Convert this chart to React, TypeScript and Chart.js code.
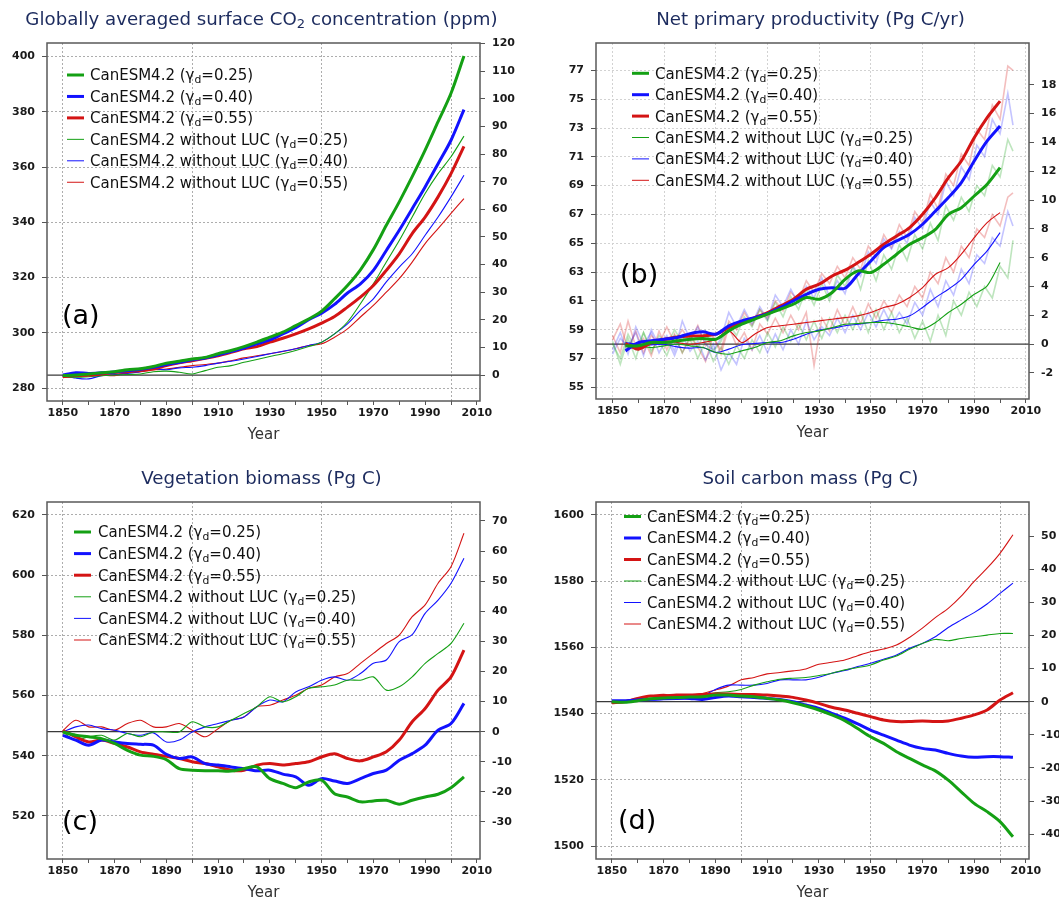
import React, { useEffect, useRef } from 'react';
import { Chart, registerables } from 'chart.js';
Chart.register(...registerables);

const FONT = '"DejaVu Sans", Verdana, sans-serif';
Chart.defaults.font.family = FONT;

// ---------- shared axes ----------
const X_TICKS = [1850, 1860, 1870, 1880, 1890, 1900, 1910, 1920, 1930, 1940, 1950, 1960, 1970, 1980, 1990, 2000, 2010];
const X_LABELS = [1850, 1870, 1890, 1910, 1930, 1950, 1970, 1990, 2010];
const X_GRID_50 = [1850, 1900, 1950, 2000];
const X_GRID_20 = [1850, 1870, 1890, 1910, 1930, 1950, 1970, 1990, 2010];

const YEARS = [1850, 1855, 1860, 1865, 1870, 1875, 1880, 1885, 1890, 1895, 1900, 1905, 1910, 1915, 1920, 1925,
  1930, 1935, 1940, 1945, 1950, 1955, 1960, 1965, 1970, 1975, 1980, 1985, 1990, 1995, 2000, 2005];
const YEARS_MEAN_B = [1855, 1860, 1865, 1870, 1875, 1880, 1885, 1890, 1895, 1900, 1905, 1910, 1915, 1920, 1925,
  1930, 1935, 1940, 1945, 1950, 1955, 1960, 1965, 1970, 1975, 1980, 1985, 1990, 1995, 2000];
const YEARS_ANNUAL_B = [1850, 1853, 1856, 1859, 1862, 1865, 1868, 1871, 1874, 1877, 1880, 1883, 1886, 1889, 1892, 1895,
  1898, 1901, 1904, 1907, 1910, 1913, 1916, 1919, 1922, 1925, 1928, 1931, 1934, 1937, 1940, 1943, 1946, 1949, 1952,
  1955, 1958, 1961, 1964, 1967, 1970, 1973, 1976, 1979, 1982, 1985, 1988, 1991, 1994, 1997, 2000, 2003, 2005];

// ---------- (a) CO2 (ppm) ----------
const CO2_LUC_25 = [284.5, 284.7, 285.1, 285.5, 285.9, 286.6, 287.0, 287.8, 289.0, 289.7, 290.5, 291.1, 292.4, 293.6, 295.0, 296.6, 298.4, 300.2, 302.6, 305.0, 307.8, 312.3, 317.1, 322.8, 330.1, 338.9, 347.4, 356.5, 366.1, 376.4, 386.7, 400.2];
const CO2_LUC_40 = [284.7, 285.5, 285.3, 285.5, 285.8, 286.3, 286.8, 287.5, 288.5, 289.3, 290.2, 290.9, 292.0, 293.2, 294.5, 296.0, 297.4, 299.6, 301.8, 304.7, 307.1, 310.3, 314.4, 317.7, 322.6, 329.8, 337.1, 344.9, 352.8, 361.2, 369.7, 380.8];
const CO2_LUC_55 = [284.1, 284.5, 284.7, 285.1, 285.6, 285.9, 286.3, 286.9, 288.1, 289.1, 289.9, 290.8, 291.7, 292.9, 294.2, 295.0, 296.6, 298.0, 299.6, 301.4, 303.5, 305.9, 309.3, 312.9, 317.1, 322.6, 328.6, 335.9, 341.9, 349.2, 357.6, 367.5];
const CO2_NOLUC_25 = [284.1, 283.9, 284.1, 284.5, 284.7, 284.9, 285.1, 285.9, 286.1, 285.7, 285.1, 286.3, 287.5, 288.1, 289.3, 290.3, 291.4, 292.4, 293.6, 295.0, 296.6, 299.6, 303.9, 310.5, 317.7, 325.6, 333.4, 341.9, 350.4, 357.6, 363.7, 371.2];
const CO2_NOLUC_40 = [284.5, 283.6, 283.3, 284.5, 284.9, 285.3, 285.9, 286.9, 286.6, 287.3, 287.5, 288.1, 289.0, 289.7, 290.5, 291.4, 292.4, 293.3, 294.2, 295.4, 296.6, 299.6, 303.2, 308.1, 312.3, 318.4, 323.8, 328.6, 335.3, 341.9, 349.2, 357.0];
const CO2_NOLUC_55 = [283.9, 284.1, 284.5, 284.7, 284.5, 285.7, 285.9, 286.6, 286.9, 287.5, 288.1, 288.5, 289.0, 289.9, 290.9, 291.7, 292.4, 293.2, 294.2, 295.4, 296.0, 298.4, 301.4, 305.7, 309.9, 314.7, 319.6, 325.6, 332.3, 337.7, 343.2, 348.6];
const A_LEFT_TICKS = [280, 300, 320, 340, 360, 380, 400];
const A_RIGHT_TICKS = [0, 10, 20, 30, 40, 50, 60, 70, 80, 90, 100, 110, 120];

// ---------- (b) NPP (Pg C/yr) ----------
const NPP_LUC_25 = [57.88, 57.88, 58.11, 58.11, 58.23, 58.34, 58.39, 58.34, 58.92, 59.38, 59.73, 60.08, 60.42, 60.77, 61.23, 61.12, 61.58, 62.50, 63.08, 62.97, 63.54, 64.24, 64.93, 65.39, 65.97, 67.01, 67.47, 68.28, 69.09, 70.25];
const NPP_LUC_40 = [57.53, 58.11, 58.23, 58.34, 58.46, 58.73, 58.85, 58.69, 59.27, 59.61, 59.84, 60.12, 60.54, 61.00, 61.46, 61.81, 61.92, 61.88, 62.85, 63.77, 64.70, 65.16, 65.62, 66.32, 67.24, 68.17, 69.21, 70.71, 72.10, 73.14];
const NPP_LUC_55 = [58.04, 57.65, 58.11, 58.34, 58.50, 58.57, 58.57, 58.69, 59.15, 59.50, 59.84, 60.19, 60.65, 61.12, 61.81, 62.16, 62.73, 63.13, 63.66, 64.24, 64.93, 65.51, 66.09, 67.01, 68.17, 69.55, 70.71, 72.33, 73.72, 74.87];
const NPP_NOLUC_25 = [57.99, 57.88, 57.76, 57.88, 57.99, 57.88, 57.76, 57.42, 57.30, 57.53, 57.76, 58.11, 58.23, 58.57, 58.80, 58.92, 59.15, 59.38, 59.43, 59.50, 59.50, 59.38, 59.20, 59.03, 59.50, 60.19, 60.77, 61.46, 62.04, 63.66];
const NPP_NOLUC_40 = [58.11, 57.99, 57.95, 57.99, 57.81, 57.72, 57.76, 57.42, 57.65, 57.95, 58.04, 58.11, 58.11, 58.34, 58.69, 58.97, 59.10, 59.27, 59.38, 59.50, 59.66, 59.73, 59.96, 60.54, 61.23, 61.81, 62.50, 63.54, 64.47, 65.74];
const NPP_NOLUC_55 = [57.88, 57.76, 57.99, 58.23, 58.11, 57.99, 58.11, 58.34, 58.92, 58.11, 58.69, 59.15, 59.27, 59.38, 59.50, 59.61, 59.73, 59.84, 59.96, 60.19, 60.54, 60.77, 61.23, 61.92, 62.85, 63.31, 64.24, 65.39, 66.43, 67.13];
const NPP_LUC_25_ANNUAL = [58.0, 57.0, 58.7, 57.6, 58.8, 57.4, 58.6, 57.9, 59.0, 58.1, 58.7, 57.8, 58.9, 57.5, 58.2, 59.4, 58.6, 59.9, 59.2, 60.4, 59.6, 60.9, 59.9, 61.3, 60.4, 61.8, 60.7, 62.2, 61.0, 62.8, 62.0, 63.4, 61.8, 63.8, 62.4, 64.2, 63.2, 64.9, 63.8, 65.6, 64.6, 66.4, 65.2, 67.6, 66.6, 68.2, 67.2, 69.0, 68.3, 70.4, 69.6, 72.2, 71.4];
const NPP_LUC_40_ANNUAL = [57.3, 58.4, 57.8, 58.8, 57.2, 59.0, 57.9, 58.6, 57.5, 59.6, 58.3, 59.2, 58.0, 57.6, 58.4, 60.2, 59.2, 60.4, 59.4, 60.6, 59.7, 61.4, 60.6, 61.8, 60.8, 62.0, 61.2, 62.6, 61.3, 62.4, 61.5, 63.4, 62.7, 64.4, 63.6, 65.3, 64.6, 65.8, 65.0, 66.8, 66.0, 67.9, 67.0, 69.3, 68.3, 70.3, 69.4, 71.8, 71.0, 73.6, 72.6, 75.4, 73.2];
const NPP_LUC_55_ANNUAL = [58.3, 59.4, 57.6, 58.9, 57.4, 58.6, 58.0, 59.2, 58.1, 59.0, 58.2, 59.3, 57.9, 58.4, 57.6, 59.6, 59.0, 60.2, 59.3, 60.4, 59.8, 61.0, 60.3, 61.6, 61.0, 62.4, 61.6, 62.9, 62.2, 63.4, 62.6, 64.0, 63.2, 64.8, 64.0, 65.6, 64.7, 66.3, 65.4, 67.2, 66.4, 68.4, 67.4, 69.8, 69.0, 71.2, 70.4, 72.9, 72.2, 74.6, 73.6, 77.3, 77.0];
const NPP_NOLUC_25_ANNUAL = [58.2, 56.6, 58.4, 57.0, 58.8, 57.6, 58.2, 57.2, 58.6, 57.4, 58.4, 57.0, 58.2, 56.8, 57.8, 56.6, 57.9, 57.0, 58.3, 57.4, 58.8, 57.8, 59.2, 58.2, 59.4, 58.3, 59.6, 58.4, 59.8, 58.8, 60.0, 59.0, 60.2, 58.8, 60.4, 59.0, 60.2, 58.8, 59.8, 58.4, 59.6, 58.2, 60.0, 58.6, 61.0, 60.0, 61.6, 60.6, 62.0, 61.2, 63.4, 62.6, 65.2];
const NPP_NOLUC_40_ANNUAL = [57.6, 58.8, 57.3, 59.2, 58.0, 58.8, 57.4, 58.4, 57.2, 58.6, 57.5, 58.2, 56.9, 58.0, 56.2, 57.4, 56.6, 58.4, 57.6, 58.6, 57.4, 58.7, 57.6, 59.0, 58.0, 59.6, 58.3, 59.2, 58.6, 59.8, 58.8, 60.0, 59.0, 60.2, 59.2, 60.4, 59.3, 60.2, 59.4, 60.9, 60.0, 61.8, 60.6, 62.4, 61.4, 63.2, 62.2, 64.2, 63.6, 65.4, 64.8, 67.2, 66.2];
const NPP_NOLUC_55_ANNUAL = [58.6, 57.4, 59.6, 57.8, 58.4, 57.2, 58.9, 57.6, 58.7, 57.4, 58.5, 57.8, 56.8, 58.6, 57.3, 59.2, 57.9, 58.8, 57.6, 59.4, 58.7, 59.8, 58.8, 60.0, 59.0, 60.2, 56.5, 59.8, 58.9, 60.4, 59.3, 60.6, 59.4, 60.8, 59.8, 61.0, 60.2, 61.4, 60.6, 62.0, 61.2, 63.0, 62.2, 64.0, 63.0, 64.8, 64.0, 66.0, 65.4, 67.0, 66.2, 68.2, 68.5];
const B_LEFT_TICKS = [55, 57, 59, 61, 63, 65, 67, 69, 71, 73, 75, 77];
const B_RIGHT_TICKS = [-2, 0, 2, 4, 6, 8, 10, 12, 14, 16, 18];

// ---------- (c) Vegetation biomass (Pg C) ----------
const VEG_LUC_25 = [547.9, 546.8, 546.3, 545.7, 544.1, 541.8, 540.2, 539.8, 538.7, 535.7, 535.2, 535.0, 535.0, 534.9, 535.7, 536.3, 532.4, 530.8, 529.4, 531.3, 531.9, 527.4, 526.3, 524.7, 525.0, 525.2, 523.9, 525.2, 526.3, 527.2, 529.4, 533.0];
const VEG_LUC_40 = [546.8, 545.2, 543.5, 545.2, 544.6, 544.1, 543.8, 543.5, 540.5, 539.1, 539.6, 537.4, 536.9, 536.3, 535.7, 535.0, 535.2, 533.9, 533.0, 530.2, 532.4, 531.6, 530.8, 532.4, 534.1, 535.2, 538.5, 540.7, 543.5, 548.5, 550.7, 557.4];
const VEG_LUC_55 = [548.3, 546.3, 544.6, 545.2, 544.1, 542.9, 541.3, 540.5, 539.8, 539.1, 538.0, 537.4, 536.3, 535.2, 535.2, 536.9, 537.4, 536.9, 537.4, 538.0, 539.6, 540.7, 539.1, 538.3, 539.6, 541.3, 545.2, 551.3, 555.7, 561.8, 566.2, 575.1];
const VEG_NOLUC_25 = [547.9, 545.2, 546.3, 546.8, 545.2, 547.4, 546.3, 547.9, 547.9, 547.9, 551.3, 549.6, 549.6, 551.8, 554.0, 556.3, 559.6, 557.9, 559.6, 562.4, 562.9, 563.5, 565.1, 565.1, 566.2, 561.8, 562.9, 566.2, 570.7, 574.0, 577.3, 584.0];
const VEG_NOLUC_40 = [547.9, 549.6, 550.2, 549.0, 548.5, 547.4, 546.8, 547.6, 544.6, 545.2, 547.9, 549.6, 550.7, 551.8, 552.9, 556.3, 558.5, 557.9, 561.2, 562.9, 565.1, 566.2, 565.1, 567.3, 570.7, 571.8, 577.9, 580.2, 587.3, 591.7, 597.3, 605.6];
const VEG_NOLUC_55 = [548.3, 551.8, 549.6, 549.6, 548.5, 550.7, 551.8, 549.6, 549.6, 550.7, 548.5, 546.3, 549.0, 551.8, 552.9, 556.3, 556.8, 558.5, 560.1, 562.4, 563.5, 566.2, 567.3, 570.7, 574.0, 577.3, 580.1, 586.2, 590.1, 597.3, 602.8, 613.9];
const C_LEFT_TICKS = [520, 540, 560, 580, 600, 620];
const C_RIGHT_TICKS = [-30, -20, -10, 0, 10, 20, 30, 40, 50, 60, 70];

// ---------- (d) Soil carbon mass (Pg C) ----------
const SOIL_LUC_25 = [1543.6, 1543.4, 1543.9, 1544.5, 1544.7, 1544.9, 1545.0, 1545.1, 1545.6, 1545.6, 1545.3, 1545.1, 1544.6, 1544.1, 1543.3, 1542.3, 1541.1, 1539.6, 1537.9, 1535.5, 1533.0, 1531.0, 1528.5, 1526.5, 1524.5, 1522.7, 1519.9, 1516.4, 1512.9, 1510.4, 1507.4, 1502.8];
const SOIL_LUC_40 = [1543.9, 1543.9, 1544.1, 1544.3, 1544.5, 1544.6, 1544.6, 1544.3, 1544.9, 1545.3, 1545.1, 1544.9, 1544.6, 1544.3, 1543.6, 1542.6, 1541.6, 1540.1, 1538.6, 1536.9, 1535.0, 1533.5, 1532.0, 1530.5, 1529.5, 1529.0, 1528.0, 1527.2, 1526.8, 1527.0, 1527.0, 1526.8];
const SOIL_LUC_55 = [1543.3, 1543.6, 1544.6, 1545.3, 1545.3, 1545.6, 1545.6, 1545.8, 1545.9, 1545.9, 1545.8, 1545.8, 1545.6, 1545.3, 1544.9, 1544.1, 1543.1, 1541.9, 1541.1, 1540.1, 1539.1, 1538.1, 1537.6, 1537.6, 1537.8, 1537.6, 1537.8, 1538.6, 1539.6, 1541.1, 1544.1, 1546.3];
const SOIL_NOLUC_25 = [1543.6, 1543.4, 1543.9, 1544.3, 1544.9, 1545.3, 1545.6, 1545.6, 1546.3, 1546.6, 1547.3, 1548.6, 1549.6, 1550.4, 1550.7, 1550.9, 1551.5, 1552.2, 1553.2, 1553.9, 1554.7, 1556.2, 1557.4, 1559.4, 1561.2, 1562.4, 1562.0, 1562.7, 1563.2, 1563.7, 1564.2, 1564.2];
const SOIL_NOLUC_40 = [1543.9, 1543.9, 1544.3, 1544.1, 1544.3, 1544.3, 1544.6, 1545.3, 1547.3, 1548.6, 1548.6, 1548.6, 1549.1, 1550.2, 1550.2, 1550.2, 1551.0, 1552.2, 1553.0, 1554.2, 1555.2, 1556.4, 1557.7, 1559.7, 1561.2, 1563.2, 1566.0, 1568.3, 1570.5, 1573.1, 1576.3, 1579.4];
const SOIL_NOLUC_55 = [1543.3, 1543.9, 1544.6, 1545.3, 1545.8, 1545.3, 1545.6, 1546.1, 1547.1, 1548.3, 1550.2, 1550.9, 1552.0, 1552.4, 1552.9, 1553.5, 1554.9, 1555.5, 1556.2, 1557.5, 1558.7, 1559.5, 1560.7, 1563.0, 1565.8, 1569.0, 1571.8, 1575.5, 1579.9, 1583.9, 1588.4, 1594.0];
const D_LEFT_TICKS = [1500, 1520, 1540, 1560, 1580, 1600];
const D_RIGHT_TICKS = [-40, -30, -20, -10, 0, 10, 20, 30, 40, 50];

// ---------- styling ----------
const GREEN = '#14a014';
const BLUE = '#1212ff';
const RED = '#d41414';
const GREEN_FADE = 'rgba(20,160,20,0.28)';
const BLUE_FADE = 'rgba(18,18,255,0.25)';
const RED_FADE = 'rgba(212,20,20,0.28)';
const TITLE_COLOR = '#1c2b5e';

type Part = { t: string; sub?: boolean };
type Series = { years: number[]; values: number[]; color: string; width: number; tension?: number };

const GAMMAS = ['0.25', '0.40', '0.55'];
const LEGEND_ITEMS = [
  ...GAMMAS.map((g, i) => ({ parts: [{ t: 'CanESM4.2 (γ' }, { t: 'd', sub: true }, { t: '=' + g + ')' }], color: [GREEN, BLUE, RED][i], width: 3 })),
  ...GAMMAS.map((g, i) => ({ parts: [{ t: 'CanESM4.2 without LUC (γ' }, { t: 'd', sub: true }, { t: '=' + g + ')' }], color: [GREEN, BLUE, RED][i], width: 1 })),
];

type PanelCfg = {
  left: number; top: number; w: number; h: number;
  area: { left: number; right: number; top: number; bottom: number };
  xMin: number; xMax: number; yMin: number; yMax: number; zeroAt: number;
  leftTicks: number[]; rightTicks: number[]; xGrid: number[]; gridColor: string;
  title: Part[]; titleY: number; letter: string; letterX: number; letterY: number;
  legend: { lineX1: number; lineX2: number; textX: number; y0: number; dy: number };
  series: Series[];
};

const sixSeries = (years: number[], a: number[][]): Series[] => [
  { years, values: a[0], color: GREEN, width: 3 },
  { years, values: a[1], color: BLUE, width: 3 },
  { years, values: a[2], color: RED, width: 3 },
  { years, values: a[3], color: GREEN, width: 1.1 },
  { years, values: a[4], color: BLUE, width: 1.1 },
  { years, values: a[5], color: RED, width: 1.1 },
];

const PANELS: PanelCfg[] = [
  {
    left: 0, top: 0, w: 530, h: 450,
    area: { left: 47, right: 480, top: 43, bottom: 401 },
    xMin: 1843.9, xMax: 2011.2, yMin: 275.3, yMax: 404.9, zeroAt: 284.7,
    leftTicks: A_LEFT_TICKS, rightTicks: A_RIGHT_TICKS, xGrid: X_GRID_50, gridColor: '#adadad',
    title: [{ t: 'Globally averaged surface CO' }, { t: '2', sub: true }, { t: ' concentration (ppm)' }], titleY: 18,
    letter: '(a)', letterX: 62, letterY: 314,
    legend: { lineX1: 67, lineX2: 84, textX: 90, y0: 75, dy: 21.45 },
    series: sixSeries(YEARS, [CO2_LUC_25, CO2_LUC_40, CO2_LUC_55, CO2_NOLUC_25, CO2_NOLUC_40, CO2_NOLUC_55]),
  },
  {
    left: 530, top: 0, w: 529, h: 450,
    area: { left: 66, right: 499, top: 43, bottom: 399 },
    xMin: 1843.6, xMax: 2011.2, yMin: 54.19, yMax: 78.9, zeroAt: 58.0,
    leftTicks: B_LEFT_TICKS, rightTicks: B_RIGHT_TICKS, xGrid: X_GRID_20, gridColor: '#d2d2d2',
    title: [{ t: 'Net primary productivity (Pg C/yr)' }], titleY: 18,
    letter: '(b)', letterX: 90, letterY: 273,
    legend: { lineX1: 102, lineX2: 119, textX: 125, y0: 73.3, dy: 21.4 },
    series: [
      ...sixSeries(YEARS_MEAN_B, [NPP_LUC_25, NPP_LUC_40, NPP_LUC_55, NPP_NOLUC_25, NPP_NOLUC_40, NPP_NOLUC_55]),
      { years: YEARS_ANNUAL_B, values: NPP_LUC_25_ANNUAL, color: GREEN_FADE, width: 1.6, tension: 0 },
      { years: YEARS_ANNUAL_B, values: NPP_LUC_40_ANNUAL, color: BLUE_FADE, width: 1.6, tension: 0 },
      { years: YEARS_ANNUAL_B, values: NPP_LUC_55_ANNUAL, color: RED_FADE, width: 1.6, tension: 0 },
      { years: YEARS_ANNUAL_B, values: NPP_NOLUC_25_ANNUAL, color: GREEN_FADE, width: 1.6, tension: 0 },
      { years: YEARS_ANNUAL_B, values: NPP_NOLUC_40_ANNUAL, color: BLUE_FADE, width: 1.6, tension: 0 },
      { years: YEARS_ANNUAL_B, values: NPP_NOLUC_55_ANNUAL, color: RED_FADE, width: 1.6, tension: 0 },
    ],
  },
  {
    left: 0, top: 450, w: 530, h: 449,
    area: { left: 47, right: 480, top: 52, bottom: 409 },
    xMin: 1843.9, xMax: 2011.2, yMin: 505.7, yMax: 624.3, zeroAt: 548.0,
    leftTicks: C_LEFT_TICKS, rightTicks: C_RIGHT_TICKS, xGrid: X_GRID_50, gridColor: '#adadad',
    title: [{ t: 'Vegetation biomass (Pg C)' }], titleY: 27,
    letter: '(c)', letterX: 62, letterY: 370,
    legend: { lineX1: 74, lineX2: 91, textX: 98, y0: 82, dy: 21.6 },
    series: sixSeries(YEARS, [VEG_LUC_25, VEG_LUC_40, VEG_LUC_55, VEG_NOLUC_25, VEG_NOLUC_40, VEG_NOLUC_55]),
  },
  {
    left: 530, top: 450, w: 529, h: 449,
    area: { left: 66, right: 499, top: 52, bottom: 409 },
    xMin: 1843.9, xMax: 2011.2, yMin: 1496.1, yMax: 1603.9, zeroAt: 1543.6,
    leftTicks: D_LEFT_TICKS, rightTicks: D_RIGHT_TICKS, xGrid: X_GRID_50, gridColor: '#adadad',
    title: [{ t: 'Soil carbon mass (Pg C)' }], titleY: 27,
    letter: '(d)', letterX: 88, letterY: 369,
    legend: { lineX1: 94, lineX2: 111, textX: 117, y0: 66.5, dy: 21.5 },
    series: sixSeries(YEARS, [SOIL_LUC_25, SOIL_LUC_40, SOIL_LUC_55, SOIL_NOLUC_25, SOIL_NOLUC_40, SOIL_NOLUC_55]),
  },
];

function drawRich(ctx: CanvasRenderingContext2D, parts: Part[], x: number, y: number, size: number, color: string, align: 'left' | 'center') {
  const main = `${size}px ${FONT}`;
  const sub = `${(size * 0.72).toFixed(1)}px ${FONT}`;
  let total = 0;
  for (const p of parts) { ctx.font = p.sub ? sub : main; total += ctx.measureText(p.t).width; }
  let cx = align === 'center' ? x - total / 2 : x;
  const base = y + size * 0.36;
  ctx.fillStyle = color;
  ctx.textAlign = 'left';
  ctx.textBaseline = 'alphabetic';
  for (const p of parts) {
    ctx.font = p.sub ? sub : main;
    ctx.fillText(p.t, cx, p.sub ? base + size * 0.2 : base);
    cx += ctx.measureText(p.t).width;
  }
}

function Panel({ cfg }: { cfg: PanelCfg }) {
  const ref = useRef<HTMLCanvasElement>(null);
  useEffect(() => {
    const c = cfg;
    const tickFont = { family: FONT, size: 11, weight: 'bold' as const };
    const datasets = c.series.map((s) => ({
      data: s.years.map((x, i) => ({ x, y: s.values[i] })),
      borderColor: s.color,
      borderWidth: s.width,
      pointRadius: 0,
      tension: s.tension ?? 0.3,
      fill: false,
      yAxisID: 'y',
    }));
    const decor = {
      id: 'decor',
      beforeDatasetsDraw(chart: any) {
        const ctx = chart.ctx as CanvasRenderingContext2D;
        const a = chart.chartArea;
        const y0 = chart.scales.y2.getPixelForValue(0);
        ctx.save();
        ctx.strokeStyle = '#3a3a3a';
        ctx.lineWidth = 1.2;
        ctx.beginPath();
        ctx.moveTo(a.left, y0);
        ctx.lineTo(a.right, y0);
        ctx.stroke();
        ctx.restore();
      },
      afterDraw(chart: any) {
        const ctx = chart.ctx as CanvasRenderingContext2D;
        const a = chart.chartArea;
        ctx.save();
        ctx.strokeStyle = '#5a5a5a';
        ctx.lineWidth = 1.5;
        ctx.strokeRect(a.left, a.top, a.right - a.left, a.bottom - a.top);
        drawRich(ctx, c.title, (a.left + a.right) / 2 - 2, c.titleY, 18.2, TITLE_COLOR, 'center');
        drawRich(ctx, [{ t: 'Year' }], (a.left + a.right) / 2, a.bottom + 33, 15, '#333333', 'center');
        drawRich(ctx, [{ t: c.letter }], c.letterX, c.letterY, 27, '#000000', 'left');
        const L = c.legend;
        LEGEND_ITEMS.forEach((it, i) => {
          const yy = L.y0 + i * L.dy;
          ctx.strokeStyle = it.color;
          ctx.lineWidth = it.width;
          ctx.beginPath();
          ctx.moveTo(L.lineX1, yy);
          ctx.lineTo(L.lineX2, yy);
          ctx.stroke();
          drawRich(ctx, it.parts, L.textX, yy, 15, '#111111', 'left');
        });
        ctx.restore();
      },
    };
    const chart = new Chart(ref.current as HTMLCanvasElement, {
      type: 'line',
      data: { datasets } as any,
      options: {
        animation: false,
        responsive: false,
        devicePixelRatio: 1,
        layout: { padding: { top: c.area.top, left: 0, right: 0, bottom: 0 } },
        plugins: { legend: { display: false }, title: { display: false }, tooltip: { enabled: false } },
        scales: {
          x: {
            type: 'linear', min: c.xMin, max: c.xMax,
            afterBuildTicks: (s: any) => { s.ticks = X_TICKS.map((v) => ({ value: v })); },
            afterFit: (s: any) => { s.height = c.h - c.area.bottom; },
            ticks: {
              autoSkip: false, maxRotation: 0, padding: 2, font: tickFont, color: '#1a1a1a',
              callback: (v: any) => (X_LABELS.includes(Number(v)) ? String(v) : ''),
            },
            grid: {
              color: (ctx: any) => (ctx.tick && c.xGrid.includes(ctx.tick.value) ? c.gridColor : 'rgba(0,0,0,0)'),
              lineWidth: 1, tickColor: '#555555', tickLength: 4, tickBorderDash: [], tickWidth: 1,
            },
            border: { display: false, dash: [2, 2] },
          },
          y: {
            type: 'linear', position: 'left', min: c.yMin, max: c.yMax,
            afterBuildTicks: (s: any) => { s.ticks = c.leftTicks.map((v) => ({ value: v })); },
            afterFit: (s: any) => { s.width = c.area.left; },
            ticks: { padding: 7, font: tickFont, color: '#1a1a1a', callback: (v: any) => String(v) },
            grid: { color: c.gridColor, lineWidth: 1, tickColor: '#555555', tickLength: 5, tickBorderDash: [], tickWidth: 1 },
            border: { display: false, dash: [2, 2] },
          },
          y2: {
            type: 'linear', position: 'right', min: c.yMin - c.zeroAt, max: c.yMax - c.zeroAt,
            afterBuildTicks: (s: any) => { s.ticks = c.rightTicks.map((v) => ({ value: v })); },
            afterFit: (s: any) => { s.width = c.w - c.area.right; },
            ticks: { padding: 7, font: tickFont, color: '#1a1a1a', callback: (v: any) => String(v) },
            grid: { drawOnChartArea: false, tickColor: '#555555', tickLength: 5, tickWidth: 1 },
            border: { display: false },
          },
        },
      } as any,
      plugins: [decor],
    });
    return () => chart.destroy();
  }, [cfg]);
  return (
    <canvas
      ref={ref}
      width={cfg.w}
      height={cfg.h}
      style={{ position: 'absolute', left: cfg.left, top: cfg.top, width: cfg.w, height: cfg.h }}
    />
  );
}

export default function App() {
  return (
    <div style={{ position: 'absolute', left: 0, top: 0, width: 1059, height: 899, overflow: 'hidden', background: '#ffffff' }}>
      {PANELS.map((p, i) => (
        <Panel key={i} cfg={p} />
      ))}
    </div>
  );
}
